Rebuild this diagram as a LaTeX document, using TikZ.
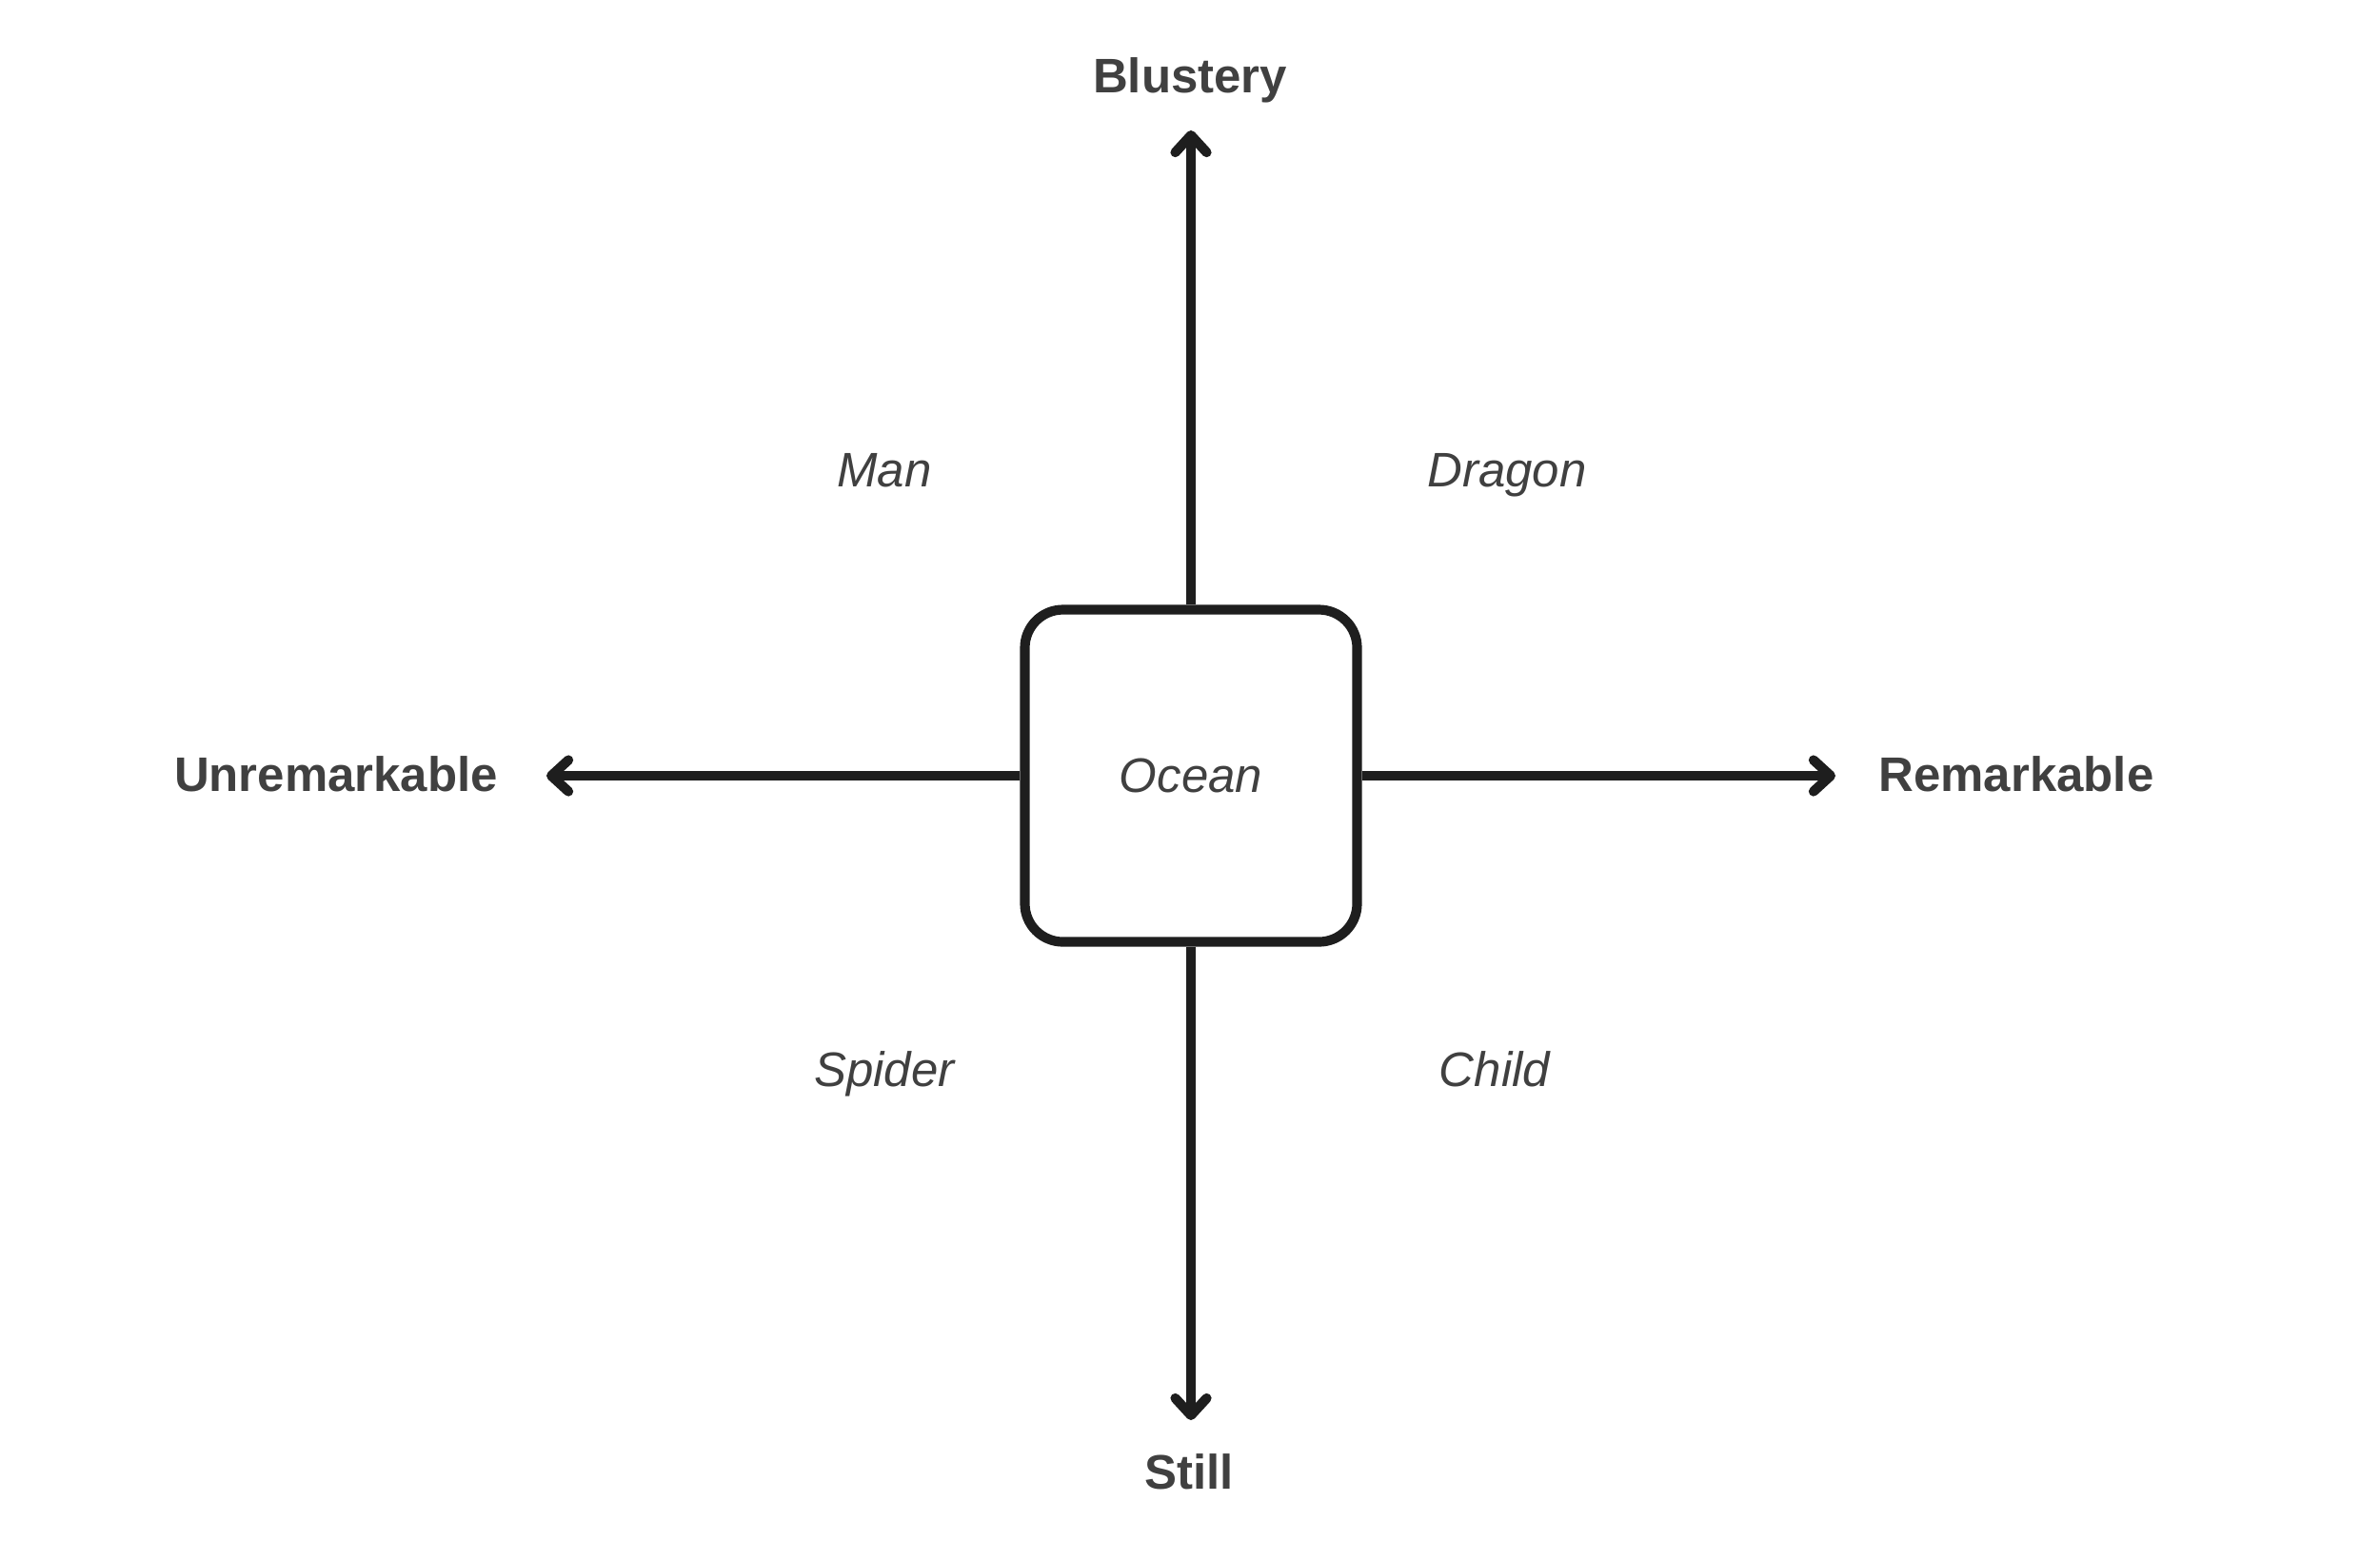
\documentclass[tikz,border=0pt]{standalone}
\usepackage{fontspec}
\setmainfont{Liberation Sans}
\usetikzlibrary{arrows.meta,positioning}
\definecolor{inkline}{HTML}{1E1E1E}
\definecolor{inktext}{HTML}{404040}

\begin{document}
\begin{tikzpicture}[
    axislabel/.style={font=\bfseries\fontsize{14.5}{17}\selectfont, text=inktext, anchor=base},
    quadlabel/.style={font=\itshape\fontsize{14.5}{17}\selectfont, text=inktext, anchor=base},
    axisarrow/.style={line width=2.9pt, draw=inkline, -{Straight Barb[length=1.8mm, width=3.3mm, round]}}
  ]
    % Parameters
    \def\cx{12.51} % Centre of the box, x
    \def\cy{-8.15} % Centre of the box, y
    \def\boxsize{3.49} % Side of the box

    \useasboundingbox (0,0) rectangle (25,-16.18);

    % Centre box
    \node[draw=inkline, line width=2.9pt, rounded corners=4mm, minimum size=\boxsize cm,
          inner sep=0pt, font=\itshape\fontsize{14.5}{17}\selectfont, text=inktext] (ocean) at (\cx,\cy) {Ocean};

    % Ends of the arrows
    \coordinate (upEnd) at (\cx,-1.37);
    \coordinate (downEnd) at (\cx,-14.92);
    \coordinate (leftEnd) at (5.74,\cy);
    \coordinate (rightEnd) at (19.28,\cy);

    \foreach \side/\tip in {north/upEnd, south/downEnd, west/leftEnd, east/rightEnd} {
        \draw[axisarrow] (ocean.\side) -- (\tip);
    }

    % Axis labels
    \node[axislabel] (blustery) at (12.50,-0.97) {Blustery};
    \node[axislabel] (still) at (12.49,-15.64) {Still};
    \node[axislabel] (unremarkable) at (3.53,-8.31) {Unremarkable};
    \node[axislabel] (remarkable) at (21.18,-8.31) {Remarkable};

    % Quadrant labels
    \node[quadlabel] (man) at (9.29,-5.11) {Man};
    \node[quadlabel] (dragon) at (15.83,-5.11) {Dragon};
    \node[quadlabel] (spider) at (9.29,-11.41) {Spider};
    \node[quadlabel] (child) at (15.70,-11.41) {Child};
\end{tikzpicture}
\end{document}
